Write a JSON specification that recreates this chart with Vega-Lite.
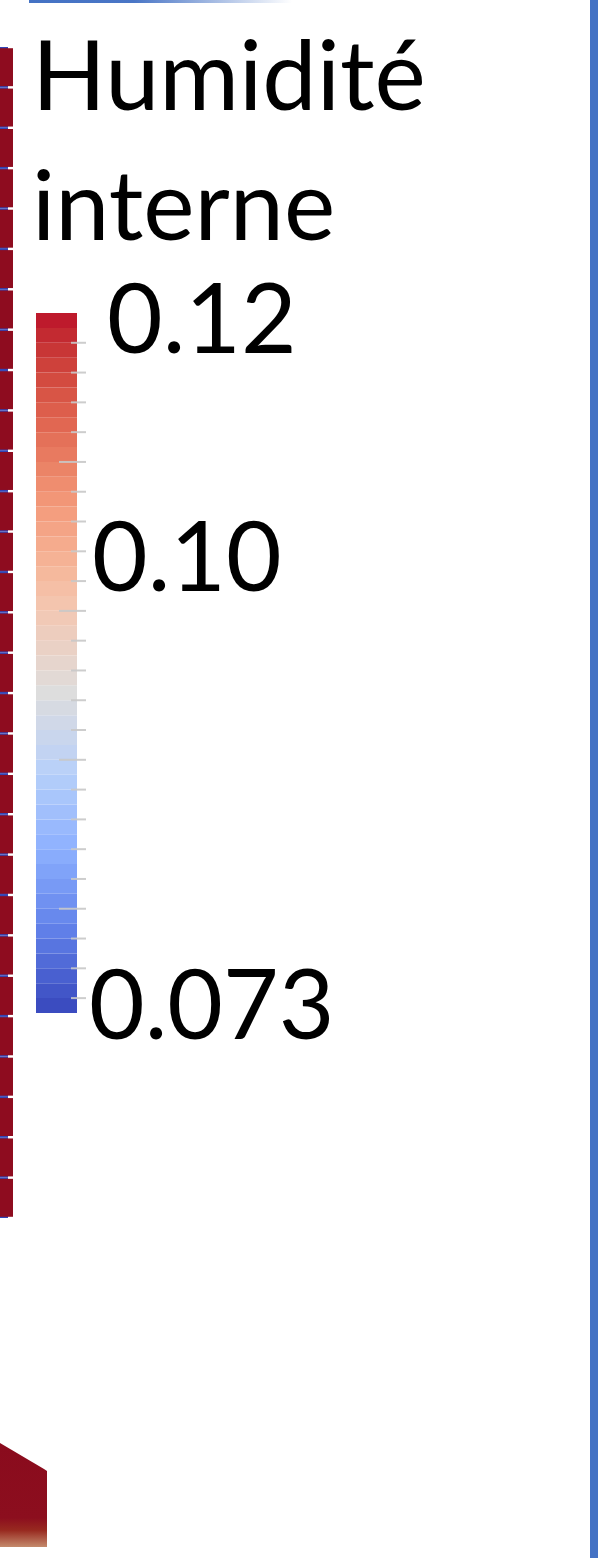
{
  "$schema": "https://vega.github.io/schema/vega-lite/v6.json",
  "width": 598,
  "height": 1558,
  "autosize": {"type": "none"},
  "padding": 0,
  "background": "#ffffff",
  "config": {"view": {"stroke": null}, "axis": {"disable": true}},
  "datasets": {
    "cells": [
      {"cell": 1}, {"cell": 2}, {"cell": 3}, {"cell": 4}, {"cell": 5}, {"cell": 6}, {"cell": 7}, {"cell": 8}, {"cell": 9}, {"cell": 10},
      {"cell": 11}, {"cell": 12}, {"cell": 13}, {"cell": 14}, {"cell": 15}, {"cell": 16}, {"cell": 17}, {"cell": 18}, {"cell": 19}, {"cell": 20},
      {"cell": 21}, {"cell": 22}, {"cell": 23}, {"cell": 24}, {"cell": 25}, {"cell": 26}, {"cell": 27}, {"cell": 28}, {"cell": 29}
    ],
    "block": [
      {"dist": 0, "top": 1443, "bottom": 1547},
      {"dist": 44, "top": 1469, "bottom": 1547},
      {"dist": 47, "top": 1471, "bottom": 1547}
    ],
    "bands": [
      {"h0": 0.073, "h1": 0.074}, {"h0": 0.074, "h1": 0.075}, {"h0": 0.075, "h1": 0.076}, {"h0": 0.076, "h1": 0.077},
      {"h0": 0.077, "h1": 0.078}, {"h0": 0.078, "h1": 0.079}, {"h0": 0.079, "h1": 0.080}, {"h0": 0.080, "h1": 0.081},
      {"h0": 0.081, "h1": 0.082}, {"h0": 0.082, "h1": 0.083}, {"h0": 0.083, "h1": 0.084}, {"h0": 0.084, "h1": 0.085},
      {"h0": 0.085, "h1": 0.086}, {"h0": 0.086, "h1": 0.087}, {"h0": 0.087, "h1": 0.088}, {"h0": 0.088, "h1": 0.089},
      {"h0": 0.089, "h1": 0.090}, {"h0": 0.090, "h1": 0.091}, {"h0": 0.091, "h1": 0.092}, {"h0": 0.092, "h1": 0.093},
      {"h0": 0.093, "h1": 0.094}, {"h0": 0.094, "h1": 0.095}, {"h0": 0.095, "h1": 0.096}, {"h0": 0.096, "h1": 0.097},
      {"h0": 0.097, "h1": 0.098}, {"h0": 0.098, "h1": 0.099}, {"h0": 0.099, "h1": 0.100}, {"h0": 0.100, "h1": 0.101},
      {"h0": 0.101, "h1": 0.102}, {"h0": 0.102, "h1": 0.103}, {"h0": 0.103, "h1": 0.104}, {"h0": 0.104, "h1": 0.105},
      {"h0": 0.105, "h1": 0.106}, {"h0": 0.106, "h1": 0.107}, {"h0": 0.107, "h1": 0.108}, {"h0": 0.108, "h1": 0.109},
      {"h0": 0.109, "h1": 0.110}, {"h0": 0.110, "h1": 0.111}, {"h0": 0.111, "h1": 0.112}, {"h0": 0.112, "h1": 0.113},
      {"h0": 0.113, "h1": 0.114}, {"h0": 0.114, "h1": 0.115}, {"h0": 0.115, "h1": 0.116}, {"h0": 0.116, "h1": 0.117},
      {"h0": 0.117, "h1": 0.118}, {"h0": 0.118, "h1": 0.119}, {"h0": 0.119, "h1": 0.120}
    ],
    "ticks": [
      {"h": 0.074, "kind": "minor"}, {"h": 0.076, "kind": "minor"}, {"h": 0.078, "kind": "minor"}, {"h": 0.080, "kind": "major"},
      {"h": 0.082, "kind": "minor"}, {"h": 0.084, "kind": "minor"}, {"h": 0.086, "kind": "minor"}, {"h": 0.088, "kind": "minor"},
      {"h": 0.090, "kind": "major"}, {"h": 0.092, "kind": "minor"}, {"h": 0.094, "kind": "minor"}, {"h": 0.096, "kind": "minor"},
      {"h": 0.098, "kind": "minor"}, {"h": 0.100, "kind": "major"}, {"h": 0.102, "kind": "minor"}, {"h": 0.104, "kind": "minor"},
      {"h": 0.106, "kind": "minor"}, {"h": 0.108, "kind": "minor"}, {"h": 0.110, "kind": "major"}, {"h": 0.112, "kind": "minor"},
      {"h": 0.114, "kind": "minor"}, {"h": 0.116, "kind": "minor"}, {"h": 0.118, "kind": "minor"}
    ],
    "labels": [
      {"h": 0.12, "label": "0.12"},
      {"h": 0.10, "label": "0.10"},
      {"h": 0.073, "label": "0.073"}
    ],
    "title": [{"name": "Humidité\ninterne"}],
    "frame": [{"part": "border"}]
  },
  "resolve": {"scale": {"y": "independent"}},
  "layer": [
    {
      "data": {"name": "frame"},
      "mark": {"type": "rule", "color": "#4472c4", "strokeWidth": 8},
      "encoding": {
        "x": {"datum": 594, "type": "quantitative", "scale": {"domain": [0, 598], "nice": false, "zero": false}, "axis": null}
      }
    },
    {
      "data": {"name": "frame"},
      "mark": {
        "type": "rect",
        "color": {
          "gradient": "linear", "x1": 0, "y1": 0, "x2": 1, "y2": 0,
          "stops": [
            {"offset": 0, "color": "#4472c4"},
            {"offset": 0.4, "color": "#4a76c6"},
            {"offset": 1, "color": "#ffffff"}
          ]
        }
      },
      "encoding": {
        "x": {"datum": 29, "type": "quantitative", "scale": {"domain": [0, 598], "nice": false, "zero": false}, "axis": null},
        "x2": {"datum": 292},
        "y": {"datum": 0, "type": "quantitative", "scale": {"domain": [0, 1558], "reverse": true, "nice": false, "zero": false}, "axis": null},
        "y2": {"datum": 3}
      }
    },
    {
      "data": {"name": "cells"},
      "mark": {"type": "rect", "color": "#3345b5"},
      "encoding": {
        "x": {"datum": 0, "type": "quantitative", "scale": {"domain": [0, 598], "nice": false, "zero": false}, "axis": null},
        "x2": {"datum": 8},
        "y": {"field": "cell", "type": "ordinal", "scale": {"range": [47, 1218], "paddingInner": 0, "paddingOuter": 0}, "axis": null}
      }
    },
    {
      "data": {"name": "cells"},
      "mark": {"type": "rect", "color": "#8e0c1f"},
      "encoding": {
        "x": {"datum": 0, "type": "quantitative", "scale": {"domain": [0, 598], "nice": false, "zero": false}, "axis": null},
        "x2": {"datum": 13},
        "y": {"field": "cell", "type": "ordinal", "scale": {"range": [47, 1218], "paddingInner": 0.06, "paddingOuter": 0.03}, "axis": null}
      }
    },
    {
      "data": {"name": "block"},
      "mark": {
        "type": "area",
        "color": {
          "gradient": "linear", "x1": 0, "y1": 0, "x2": 0, "y2": 1,
          "stops": [
            {"offset": 0, "color": "#8a0b1d"},
            {"offset": 0.72, "color": "#8c0e1e"},
            {"offset": 0.84, "color": "#982a20"},
            {"offset": 1, "color": "#c48a6c"}
          ]
        }
      },
      "encoding": {
        "x": {"field": "dist", "type": "quantitative", "scale": {"domain": [0, 598], "nice": false, "zero": false}, "axis": null},
        "y": {"field": "top", "type": "quantitative", "scale": {"domain": [0, 1558], "reverse": true, "nice": false, "zero": false}, "axis": null},
        "y2": {"field": "bottom"}
      }
    },
    {
      "data": {"name": "bands"},
      "mark": {"type": "rect"},
      "encoding": {
        "x": {"datum": 36, "type": "quantitative", "scale": {"domain": [0, 598], "nice": false, "zero": false}, "axis": null},
        "x2": {"datum": 77},
        "y": {"field": "h0", "type": "quantitative", "scale": {"domain": [0.036407, 0.141016], "nice": false, "zero": false}, "axis": null},
        "y2": {"field": "h1"},
        "color": {
          "field": "h0", "type": "quantitative", "legend": null,
          "scale": {
            "domain": [0.073, 0.07825, 0.0835, 0.08875, 0.094, 0.10025, 0.1065, 0.11275, 0.119],
            "range": ["#3b4cc0", "#6282ea", "#8db0fe", "#b8d0f9", "#dddddd", "#f5c4ac", "#f49a7b", "#de604d", "#be1a2c"]
          }
        }
      }
    },
    {
      "data": {"name": "ticks"},
      "transform": [{"filter": "datum.kind === 'minor'"}],
      "mark": {"type": "rule", "color": "#c8c8c8", "strokeWidth": 2, "opacity": 0.9},
      "encoding": {
        "x": {"datum": 71, "type": "quantitative", "scale": {"domain": [0, 598], "nice": false, "zero": false}, "axis": null},
        "x2": {"datum": 86},
        "y": {"field": "h", "type": "quantitative", "scale": {"domain": [0.036407, 0.141016], "nice": false, "zero": false}, "axis": null}
      }
    },
    {
      "data": {"name": "ticks"},
      "transform": [{"filter": "datum.kind === 'major'"}],
      "mark": {"type": "rule", "color": "#c8c8c8", "strokeWidth": 2, "opacity": 0.9},
      "encoding": {
        "x": {"datum": 59, "type": "quantitative", "scale": {"domain": [0, 598], "nice": false, "zero": false}, "axis": null},
        "x2": {"datum": 86},
        "y": {"field": "h", "type": "quantitative", "scale": {"domain": [0.036407, 0.141016], "nice": false, "zero": false}, "axis": null}
      }
    },
    {
      "data": {"name": "labels"},
      "transform": [{"filter": "datum.label === '0.12'"}],
      "mark": {"type": "text", "font": "Lato", "fontSize": 96, "color": "#000000", "align": "left", "baseline": "alphabetic", "dy": 40},
      "encoding": {
        "x": {"datum": 107, "type": "quantitative", "scale": {"domain": [0, 598], "nice": false, "zero": false}, "axis": null},
        "y": {"field": "h", "type": "quantitative", "scale": {"domain": [0.036407, 0.141016], "nice": false, "zero": false}, "axis": null},
        "text": {"field": "label"}
      }
    },
    {
      "data": {"name": "labels"},
      "transform": [{"filter": "datum.label === '0.10'"}],
      "mark": {"type": "text", "font": "Lato", "fontSize": 96, "color": "#000000", "align": "left", "baseline": "alphabetic", "dy": -20},
      "encoding": {
        "x": {"datum": 92, "type": "quantitative", "scale": {"domain": [0, 598], "nice": false, "zero": false}, "axis": null},
        "y": {"field": "h", "type": "quantitative", "scale": {"domain": [0.036407, 0.141016], "nice": false, "zero": false}, "axis": null},
        "text": {"field": "label"}
      }
    },
    {
      "data": {"name": "labels"},
      "transform": [{"filter": "datum.label === '0.073'"}],
      "mark": {"type": "text", "font": "Lato", "fontSize": 96, "color": "#000000", "align": "left", "baseline": "alphabetic", "dy": 26},
      "encoding": {
        "x": {"datum": 89, "type": "quantitative", "scale": {"domain": [0, 598], "nice": false, "zero": false}, "axis": null},
        "y": {"field": "h", "type": "quantitative", "scale": {"domain": [0.036407, 0.141016], "nice": false, "zero": false}, "axis": null},
        "text": {"field": "label"}
      }
    },
    {
      "data": {"name": "title"},
      "mark": {"type": "text", "font": "Lato", "fontSize": 97, "color": "#000000", "align": "left", "baseline": "alphabetic", "lineBreak": "\n", "lineHeight": 130},
      "encoding": {
        "x": {"datum": 32, "type": "quantitative", "scale": {"domain": [0, 598], "nice": false, "zero": false}, "axis": null},
        "y": {"datum": 110, "type": "quantitative", "scale": {"domain": [0, 1558], "reverse": true, "nice": false, "zero": false}, "axis": null},
        "text": {"field": "name"}
      }
    }
  ]
}
